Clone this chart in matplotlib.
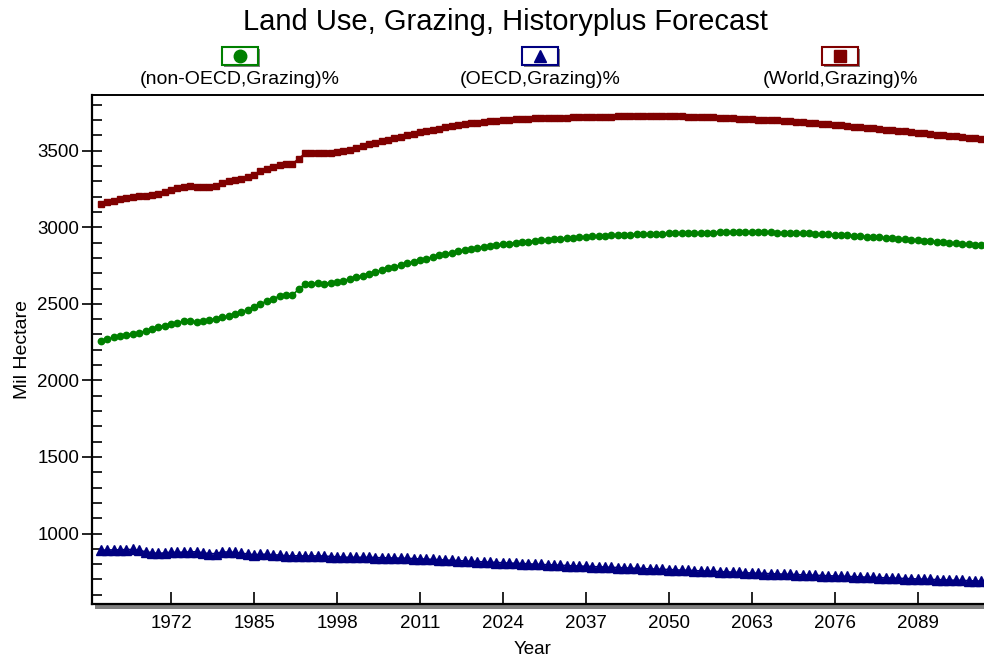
import matplotlib
matplotlib.use('Agg')
import matplotlib.pyplot as plt
from matplotlib.patches import Rectangle
from matplotlib.ticker import MultipleLocator

plt.rcParams['font.family'] = ['Liberation Sans', 'DejaVu Sans']

years = list(range(1961, 2101))

# World grazing land, Mil Hectare (1961..2100)
world = [
    3149, 3163, 3174, 3184, 3193, 3201, 3203, 3203, 3210,
    3217, 3232, 3246, 3255, 3264, 3268, 3262, 3260, 3263, 3272,
    3292, 3300, 3310, 3318, 3330, 3343, 3365, 3382, 3395, 3410,
    3412, 3413, 3449, 3482, 3487, 3488, 3486, 3486, 3490, 3497,
    3508, 3518, 3530, 3541, 3552, 3562, 3572, 3582, 3592, 3602,
    3611, 3620, 3629, 3637, 3645, 3653, 3660, 3667, 3673, 3679,
    3684, 3689, 3693, 3697, 3700, 3703, 3705, 3707, 3709, 3711,
    3712, 3714, 3715, 3716, 3717, 3718, 3719, 3720, 3721, 3722,
    3723, 3723, 3724, 3724, 3725, 3725, 3725, 3725, 3725, 3725,
    3725, 3724, 3724, 3723, 3722, 3721, 3720, 3718, 3716, 3714,
    3712, 3710, 3708, 3706, 3704, 3702, 3700, 3698, 3695, 3693,
    3690, 3687, 3684, 3680, 3677, 3673, 3670, 3666, 3662, 3658,
    3654, 3650, 3646, 3642, 3638, 3634, 3630, 3626, 3621, 3617,
    3613, 3609, 3605, 3601, 3597, 3593, 3589, 3585, 3580, 3576,
    3572,
]

non_oecd = [
    2259, 2270, 2281, 2290, 2298, 2305, 2313, 2322, 2335,
    2347, 2358, 2368, 2378, 2385, 2388, 2381, 2386, 2394, 2403,
    2412, 2421, 2433, 2447, 2463, 2482, 2501, 2517, 2535, 2550,
    2558, 2559, 2594, 2629, 2633, 2634, 2633, 2636, 2642, 2652,
    2663, 2674, 2685, 2697, 2709, 2720, 2731, 2742, 2753, 2764,
    2775, 2786, 2796, 2806, 2816, 2826, 2835, 2843, 2851, 2858,
    2865, 2872, 2878, 2884, 2889, 2894, 2899, 2903, 2907, 2911,
    2915, 2919, 2923, 2926, 2929, 2932, 2935, 2938, 2941, 2943,
    2945, 2947, 2949, 2951, 2953, 2955, 2956, 2957, 2958, 2959,
    2960, 2961, 2962, 2963, 2964, 2965, 2966, 2966, 2967, 2967,
    2968, 2968, 2968, 2968, 2968, 2967, 2967, 2966, 2965, 2964,
    2963, 2962, 2960, 2958, 2956, 2954, 2952, 2950, 2947, 2945,
    2942, 2939, 2937, 2934, 2931, 2928, 2925, 2922, 2918, 2915,
    2912, 2908, 2905, 2901, 2898, 2895, 2891, 2888, 2885, 2882,
    2879,
]

oecd = [
    890, 893, 893, 894, 895, 896, 890, 881, 875,
    870, 874, 878, 877, 879, 880, 881, 874, 869, 869,
    880, 879, 877, 871, 867, 861, 864, 865, 860, 860,
    854, 854, 855, 853, 854, 854, 853, 850, 848, 845,
    845, 844, 845, 844, 843, 842, 841, 840, 839, 838,
    836, 834, 833, 831, 829, 827, 825, 823, 821, 819,
    817, 815, 813, 811, 809, 807, 806, 804, 802, 800,
    798, 796, 795, 793, 791, 789, 788, 786, 784, 783,
    781, 779, 778, 776, 774, 773, 771, 769, 768, 766,
    765, 763, 761, 760, 758, 756, 755, 753, 751, 750,
    748, 746, 744, 742, 741, 739, 738, 736, 735, 733,
    732, 730, 729, 727, 726, 724, 723, 721, 720, 718,
    717, 715, 714, 712, 711, 709, 708, 706, 705, 703,
    702, 700, 699, 698, 696, 695, 694, 692, 691, 690,
    688,
]

series_labels = ['(non-OECD,Grazing)%', '(OECD,Grazing)%', '(World,Grazing)%']
series_colors = ['#008000', '#000080', '#800000']
series_markers = ['o', '^', 's']
tick_years = [1972, 1985, 1998, 2011, 2024, 2037, 2050, 2063, 2076, 2089]

W, H = 984, 662
fig = plt.figure(figsize=(W / 100, H / 100), dpi=100)

# axes runs past the right edge, like the cropped original
ax_left, ax_top, ax_bottom = 92, 95, 604
x0, x1 = 1959.6, 2102.0
px_per_year = 6.38
ax_w = (x1 - x0) * px_per_year
ax = fig.add_axes([ax_left / W, 1 - ax_bottom / H, ax_w / W, (ax_bottom - ax_top) / H])

ax.plot(years, non_oecd, color=series_colors[0], marker='o', markersize=4.6, lw=1.2)
ax.plot(years, oecd, color=series_colors[1], marker='^', markersize=6.6, lw=1.2)
ax.plot(years, world, color=series_colors[2], marker='s', markersize=5, lw=1.2)

ax.set_xlim(x0, x1)
ax.set_ylim(540, 3864)
ax.set_xticks(tick_years)
ax.yaxis.set_major_locator(MultipleLocator(500))
ax.yaxis.set_minor_locator(MultipleLocator(100))
ax.set_yticks([1000, 1500, 2000, 2500, 3000, 3500])
ax.tick_params(axis='y', which='major', direction='inout', length=14, width=1.2, labelsize=13.5, pad=2)
ax.tick_params(axis='y', which='minor', direction='in', length=7, width=1.2)
ax.tick_params(axis='x', which='major', direction='in', length=8.5, width=1.2, labelsize=13.5, pad=8)
ax.spines['right'].set_visible(False)
ax.spines['left'].set_linewidth(1.6)
ax.spines['bottom'].set_linewidth(1.6)
ax.spines['top'].set_linewidth(1.4)
ax.set_ylabel('Mil Hectare', fontsize=14, labelpad=5)

# overlay in pixel coords for title, legend, shadow
ov = fig.add_axes([0, 0, 1, 1], zorder=-1)
ov.set_xlim(0, W)
ov.set_ylim(H, 0)
ov.axis('off')
ov.add_patch(Rectangle((95, 604), W - 95, 5, color='#808080', lw=0))

fig.text(505 / W, 1 - 22 / H, 'Land Use, Grazing, Historyplus Forecast', ha='center', va='center', fontsize=21)
fig.text(533 / W, 1 - 650 / H, 'Year', ha='center', va='center', fontsize=13.5)

ov2 = fig.add_axes([0, 0, 1, 1], zorder=5)
ov2.set_xlim(0, W)
ov2.set_ylim(H, 0)
ov2.axis('off')
ov2.patch.set_alpha(0)
for cx, lab, col, mk in zip([240, 540, 840], series_labels, series_colors, series_markers):
    ov2.add_patch(Rectangle((cx - 16, 49), 36, 18, facecolor='#808080', lw=0))
    ov2.add_patch(Rectangle((cx - 18, 47), 36, 18, facecolor='white', edgecolor=col, lw=1.5))
    ov2.plot([cx], [56], marker=mk, color=col, markersize=9)
    ov2.text(cx, 79, lab, ha='center', va='center', fontsize=14)

fig.savefig('out.png', dpi=100)
